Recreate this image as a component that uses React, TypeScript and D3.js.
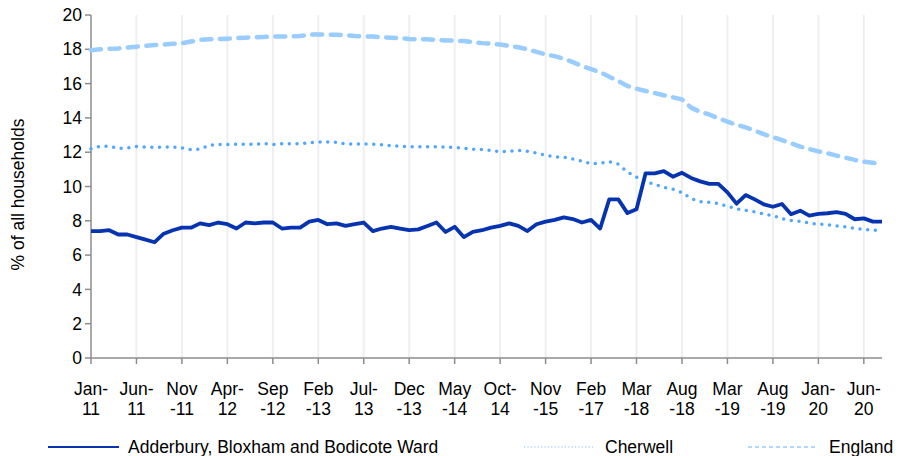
import React from "react";
import * as d3 from "d3";

const tickLabels: [string, string][] = [
  ["Jan-", "11"], ["Jun-", "11"], ["Nov", "-11"], ["Apr-", "12"], ["Sep", "-12"],
  ["Feb", "-13"], ["Jul-", "13"], ["Dec", "-13"], ["May", "-14"], ["Oct-", "14"],
  ["Nov", "-15"], ["Feb", "-17"], ["Mar", "-18"], ["Aug", "-18"], ["Mar", "-19"],
  ["Aug", "-19"], ["Jan-", "20"], ["Jun-", "20"],
];
const tickEvery = 5;

const yTicks = [0, 2, 4, 6, 8, 10, 12, 14, 16, 18, 20];

const adderbury = [
  7.4, 7.4, 7.45, 7.2, 7.2, 7.05, 6.9, 6.75, 7.25, 7.45,
  7.6, 7.6, 7.85, 7.75, 7.9, 7.8, 7.55, 7.9, 7.85, 7.9,
  7.9, 7.55, 7.6, 7.6, 7.95, 8.05, 7.8, 7.85, 7.7, 7.8,
  7.9, 7.4, 7.55, 7.65, 7.55, 7.45, 7.5, 7.7, 7.9, 7.35,
  7.65, 7.05, 7.35, 7.45, 7.6, 7.7, 7.85, 7.7, 7.4, 7.8,
  7.95, 8.05, 8.2, 8.1, 7.9, 8.05, 7.55, 9.25, 9.25, 8.45,
  8.67, 10.77, 10.77, 10.9, 10.57, 10.8, 10.5, 10.3, 10.15, 10.15,
  9.66, 9.0, 9.5, 9.25, 8.96, 8.82, 8.98, 8.38, 8.59, 8.3,
  8.4, 8.44, 8.5, 8.4, 8.09, 8.14, 7.95, 7.95,
];

const cherwell = [
  12.2, 12.35, 12.35, 12.22, 12.25, 12.33, 12.3, 12.28, 12.3, 12.3,
  12.25, 12.15, 12.18, 12.4, 12.45, 12.45, 12.47, 12.47, 12.47, 12.5,
  12.45, 12.5, 12.5, 12.5, 12.55, 12.6, 12.6, 12.58, 12.48, 12.48,
  12.48, 12.46, 12.44, 12.38, 12.34, 12.32, 12.32, 12.32, 12.32, 12.3,
  12.28, 12.22, 12.18, 12.15, 12.1, 12.02, 12.05, 12.1, 12.05, 11.95,
  11.82, 11.74, 11.7, 11.6, 11.48, 11.33, 11.35, 11.45, 11.3, 10.85,
  10.55, 10.3, 10.12, 9.95, 9.85, 9.65, 9.3, 9.12, 9.08, 9.0,
  8.85, 8.7, 8.6, 8.52, 8.4, 8.3, 8.12, 8.02, 7.97, 7.87,
  7.8, 7.78, 7.7, 7.65, 7.55, 7.5, 7.46, 7.4,
];

const england = [
  17.95, 18.0, 18.03, 18.05, 18.1, 18.15, 18.2, 18.25, 18.28, 18.32,
  18.35, 18.45, 18.55, 18.58, 18.6, 18.62, 18.65, 18.68, 18.7, 18.72,
  18.74, 18.74, 18.75, 18.78, 18.85, 18.87, 18.85, 18.85, 18.83, 18.78,
  18.75, 18.74, 18.7, 18.68, 18.65, 18.6, 18.58, 18.58, 18.55, 18.52,
  18.5, 18.48, 18.42, 18.36, 18.32, 18.28, 18.2, 18.12, 18.0, 17.85,
  17.7, 17.6, 17.45, 17.25, 17.02, 16.85, 16.66, 16.4, 16.15, 15.86,
  15.7, 15.57, 15.45, 15.32, 15.2, 15.08, 14.6, 14.35, 14.2, 13.98,
  13.78, 13.6, 13.45, 13.26, 13.05, 12.88, 12.7, 12.52, 12.33, 12.18,
  12.05, 11.94, 11.8, 11.68, 11.55, 11.45, 11.38, 11.3,
];

const seriesNames = ["Adderbury, Bloxham and Bodicote Ward", "Cherwell", "England"];

const COL_A = "#0633b0";
const COL_C = "#4da6ff";
const COL_E = "#99ccff";
const AXIS = "#8c8c8c";
const FONT = "'Liberation Sans', Arial, sans-serif";
const FS = 17.5;

export default function App() {
  const W = 899, H = 456;
  const left = 91, right = 882, top = 15, bottom = 358;
  const x = d3.scaleLinear().domain([0, adderbury.length - 1]).range([left, right]);
  const y = d3.scaleLinear().domain([0, 20]).range([bottom, top]);
  const line = d3.line<number>().x((_, i) => x(i)).y((d) => y(d));
  const tickIdx = tickLabels.map((_, i) => i * tickEvery);

  return (
    <div style={{ position: "absolute", left: 0, top: 0 }}>
      <svg width={W} height={H} style={{ display: "block", fontFamily: FONT }}>
        <rect width={W} height={H} fill="#fff" />
        {tickIdx.slice(1).map((t) => (
          <line key={"g" + t} x1={x(t)} x2={x(t)} y1={top} y2={bottom} stroke="#efefef" strokeWidth={2} />
        ))}
        <line x1={left} x2={left} y1={top} y2={bottom} stroke={AXIS} strokeWidth={1.5} />
        {yTicks.map((v) => (
          <g key={"y" + v}>
            <line x1={left - 6} x2={left} y1={y(v)} y2={y(v)} stroke={AXIS} strokeWidth={1.5} />
            <text x={left - 9} y={y(v)} dy="0.35em" textAnchor="end" fontSize={FS} fill="#000">{v}</text>
          </g>
        ))}
        <line x1={left} x2={right} y1={bottom} y2={bottom} stroke={AXIS} strokeWidth={1.5} />
        {tickIdx.map((t, k) => (
          <g key={"x" + t}>
            <line x1={x(t)} x2={x(t)} y1={bottom} y2={bottom + 6} stroke={AXIS} strokeWidth={1.5} />
            <text x={x(t)} y={395} textAnchor="middle" fontSize={FS} fill="#000">{tickLabels[k][0]}</text>
            <text x={x(t)} y={415} textAnchor="middle" fontSize={FS} fill="#000">{tickLabels[k][1]}</text>
          </g>
        ))}
        <text transform={`translate(24,${(top + bottom) / 2 + 8}) rotate(-90)`} textAnchor="middle" fontSize={FS} fill="#000">
          % of all households
        </text>
        <path d={line(england) || ""} fill="none" stroke={COL_E} strokeWidth={4.5} strokeDasharray="10 8.5" strokeLinecap="round" strokeLinejoin="round" />
        <path d={line(cherwell) || ""} fill="none" stroke={COL_C} strokeWidth={3.5} strokeDasharray="0 7.7" strokeLinecap="round" strokeLinejoin="round" />
        <path d={line(adderbury) || ""} fill="none" stroke={COL_A} strokeWidth={3.8} strokeLinejoin="round" />
        <line x1={48} x2={119} y1={447} y2={447} stroke={COL_A} strokeWidth={2} />
        <text x={128} y={453} fontSize={FS} fill="#000">{seriesNames[0]}</text>
        <line x1={524} x2={593} y1={447} y2={447} stroke={COL_C} strokeWidth={1.2} strokeDasharray="1.2 2.2" opacity={0.7} />
        <text x={605} y={453} fontSize={FS} fill="#000">{seriesNames[1]}</text>
        <line x1={748} x2={817} y1={447} y2={447} stroke={COL_E} strokeWidth={1.5} strokeDasharray="4 3" />
        <text x={829} y={453} fontSize={FS} fill="#000">{seriesNames[2]}</text>
      </svg>
    </div>
  );
}
